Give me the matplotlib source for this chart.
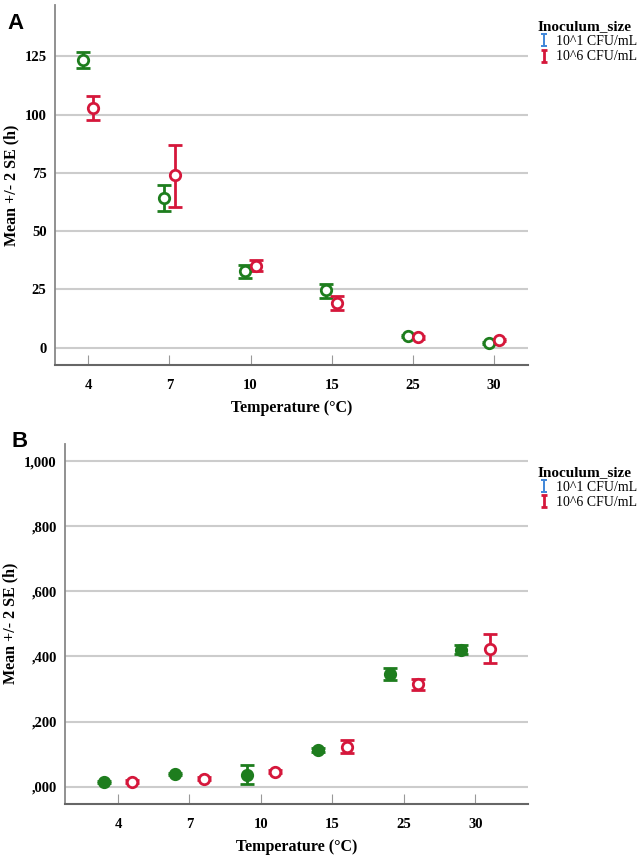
import numpy as np
import matplotlib.pyplot as plt
from matplotlib.lines import Line2D
from matplotlib.path import Path

temps = ["4", "7", "10", "15", "25", "30"]

# panel A: mean +/- 2 SE (h)
a_low_mean = [123.3, 64.2, 33.0, 24.6, 5.1, 2.0]
a_low_lo = [120.0, 58.5, 30.0, 21.3, 4.6, 1.6]
a_low_hi = [127.0, 70.0, 35.6, 27.5, 5.6, 2.4]
a_high_mean = [102.7, 74.0, 35.2, 19.2, 4.4, 3.3]
a_high_lo = [97.5, 60.5, 32.8, 16.2, 3.9, 2.9]
a_high_hi = [108.0, 87.0, 37.5, 22.0, 4.9, 3.7]

# panel B
b_low_mean = [0.015, 0.039, 0.037, 0.113, 0.347, 0.421]
b_low_lo = [0.012, 0.036, 0.009, 0.107, 0.329, 0.408]
b_low_hi = [0.018, 0.042, 0.066, 0.119, 0.364, 0.434]
b_high_mean = [0.015, 0.025, 0.046, 0.123, 0.316, 0.424]
b_high_lo = [0.010, 0.020, 0.041, 0.105, 0.298, 0.380]
b_high_hi = [0.020, 0.030, 0.051, 0.142, 0.332, 0.468]

green = "#1e7d1e"
red = "#d5173b"
blue = "#3f86d8"
grid_c = "#cccccc"
serif = "Liberation Serif"

# "I" shaped legend marker (error bar with caps)
ibar = Path([(-0.45, -1), (0.45, -1), (0, -1), (0, 1), (-0.45, 1), (0.45, 1)],
            [Path.MOVETO, Path.LINETO, Path.MOVETO, Path.LINETO, Path.MOVETO, Path.LINETO])

fig = plt.figure(figsize=(6.38, 8.58), dpi=100)
axA = fig.add_axes([0.086, 0.575, 0.742, 0.419])
axB = fig.add_axes([0.102, 0.063, 0.726, 0.420])


def draw(ax, off, series, fills):
    x = np.arange(len(temps))
    for (m, lo, hi), col, dx, fill in zip(series, [green, red], [-off, off], fills):
        m = np.array(m); lo = np.array(lo); hi = np.array(hi)
        ax.errorbar(x + dx, m, yerr=[m - lo, hi - m], fmt="o", color=col,
                    mfc=col if fill else "white", mec=col, mew=2, ms=7.5,
                    elinewidth=2, capsize=5, capthick=2, zorder=3)


def style(ax, ylim, yticks, ylabels, xlim, ylab_x):
    ax.set_xlim(*xlim)
    ax.set_ylim(*ylim)
    ax.set_yticks(yticks)
    ax.set_yticklabels(ylabels, fontfamily=serif, fontweight="bold", fontsize=10.5)
    ax.set_xticks(range(len(temps)))
    ax.set_xticklabels(temps, fontfamily=serif, fontweight="bold", fontsize=10.5)
    ax.tick_params(axis="y", length=0, pad=6)
    ax.tick_params(axis="x", direction="in", length=7, color="#999999", pad=10)
    for y in yticks:
        ax.axhline(y, color=grid_c, lw=1.5, zorder=1)
    for s in ["top", "right"]:
        ax.spines[s].set_visible(False)
    ax.spines["left"].set_color("#888888")
    ax.spines["bottom"].set_color("#666666")
    ax.spines["left"].set_linewidth(1.3)
    ax.spines["bottom"].set_linewidth(1.5)
    ax.set_xlabel("Temperature (\u00b0C)", fontfamily=serif, fontweight="bold", fontsize=11.5)
    ax.xaxis.set_label_coords(0.5, -0.097)
    ax.set_ylabel("Mean +/- 2 SE (h)", fontfamily=serif, fontweight="bold", fontsize=11.5)
    ax.yaxis.set_label_coords(ylab_x, 0.5)
    handles = [Line2D([], [], color=blue, marker=ibar, ls="none", ms=9, mew=1.4),
               Line2D([], [], color=red, marker=ibar, ls="none", ms=9, mew=2)]
    leg = ax.legend(handles, ["10^1 CFU/mL", "10^6 CFU/mL"], title="Inoculum_size",
                    loc="upper left", bbox_to_anchor=(1.0, 1.0), frameon=False,
                    prop={"family": serif, "size": 10}, handlelength=0.8,
                    handletextpad=0.5, labelspacing=0.15, borderaxespad=0.3)
    leg.get_title().set_fontfamily(serif)
    leg.get_title().set_fontweight("bold")
    leg.get_title().set_fontsize(11)
    leg._legend_box.align = "left"


draw(axA, 0.065, [(a_low_mean, a_low_lo, a_low_hi), (a_high_mean, a_high_lo, a_high_hi)],
     [False, False])
style(axA, (-7.3, 147), [0, 25, 50, 75, 100, 125], ["0", "25", "50", "75", "100", "125"],
      (-0.41, 5.42), -0.075)
axA.get_legend().set_bbox_to_anchor((1.0, 0.985))

draw(axB, 0.2, [(b_low_mean, b_low_lo, b_low_hi), (b_high_mean, b_high_lo, b_high_hi)],
     [True, False])
style(axB, (-0.053, 1.054), [0, 0.2, 0.4, 0.6, 0.8, 1.0],
      [",000", ",200", ",400", ",600", ",800", "1,000"], (-0.74, 5.74), -0.1)
axB.get_legend().set_bbox_to_anchor((1.0, 0.965))

fig.text(0.012, 0.985, "A", fontfamily="Liberation Sans", fontweight="bold", fontsize=16, va="top")
fig.text(0.018, 0.498, "B", fontfamily="Liberation Sans", fontweight="bold", fontsize=16, va="top")

fig.savefig("out.png", dpi=100)
